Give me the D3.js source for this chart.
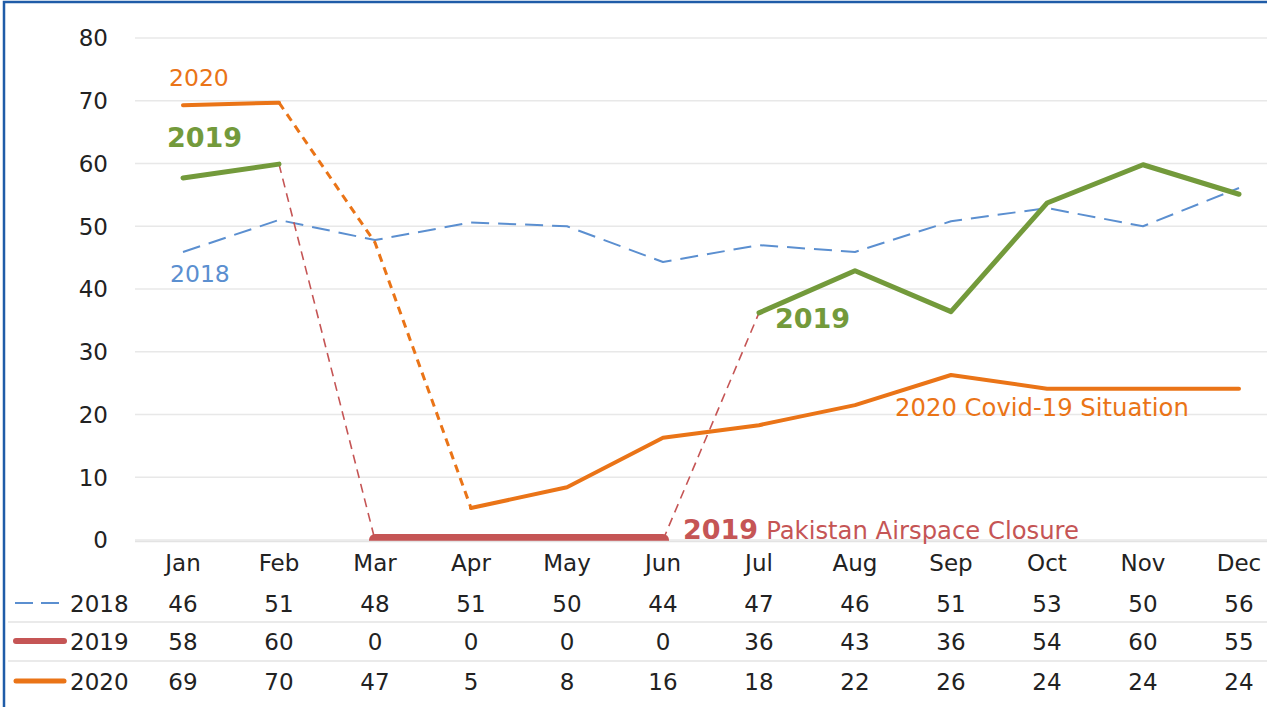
<!DOCTYPE html>
<html>
<head>
<meta charset="utf-8">
<script src="https://cdn.jsdelivr.net/npm/d3@7"></script>
<style>
html,body{margin:0;padding:0;background:#fff;}
svg{display:block;font-family:"DejaVu Sans",sans-serif;}
</style>
</head>
<body>
<svg id="chart" width="1267" height="707"></svg>
<script>
const months = ["Jan","Feb","Mar","Apr","May","Jun","Jul","Aug","Sep","Oct","Nov","Dec"];
const series2018 = [45.9, 51.0, 47.8, 50.6, 50.0, 44.3, 47.0, 45.9, 50.8, 52.9, 50.0, 56.1];
const series2019 = [57.7, 59.9, 0, 0, 0, 0, 36.2, 42.9, 36.4, 53.7, 59.8, 55.1];
const series2020 = [69.3, 69.7, 47.4, 5.1, 8.4, 16.3, 18.3, 21.5, 26.3, 24.1, 24.1, 24.1];
const table2018 = [46, 51, 48, 51, 50, 44, 47, 46, 51, 53, 50, 56];
const table2019 = [58, 60, 0, 0, 0, 0, 36, 43, 36, 54, 60, 55];
const table2020 = [69, 70, 47, 5, 8, 16, 18, 22, 26, 24, 24, 24];
const yTicks = [0, 10, 20, 30, 40, 50, 60, 70, 80];
const seriesNames = ["2018", "2019", "2020"];

const C = {blue:"#5b8fd0", green:"#739a3b", red:"#c55555", orange:"#ea7417", grid:"#e8e8e8", text:"#222"};

const svg = d3.select("#chart");
const x = d3.scaleBand().domain(months).range([135, 1287]);
const xc = m => x(m) + x.bandwidth()/2;
const y = d3.scaleLinear().domain([0, 80]).range([540, 38]);

// border
svg.append("rect").attr("x", 4).attr("y", 2).attr("width", 1300).attr("height", 800)
  .attr("fill", "none").attr("stroke", "#1f5ca8").attr("stroke-width", 2.5);

// gridlines
svg.append("g").selectAll("line").data(yTicks).join("line")
  .attr("x1", 135).attr("x2", 1267)
  .attr("y1", d => y(d)).attr("y2", d => y(d))
  .attr("stroke", C.grid).attr("stroke-width", 1.5);

// y tick labels
svg.append("g").selectAll("text").data(yTicks).join("text")
  .attr("x", 108).attr("y", d => y(d)).attr("dy", "0.36em")
  .attr("text-anchor", "end").attr("font-size", 23).attr("fill", C.text)
  .text(d => d);

// clip
svg.append("clipPath").attr("id", "plotclip").append("rect")
  .attr("x", 135).attr("y", 0).attr("width", 1200).attr("height", y(0) + 1);

const plot = svg.append("g").attr("clip-path", "url(#plotclip)");
const line = d3.line().x(d => xc(d.m)).y(d => y(d.v));
function seg(vals, idx) { return idx.map(i => ({m: months[i], v: vals[i]})); }
function draw(vals, idx, color, width, dash, cap) {
  plot.append("path").datum(seg(vals, idx)).attr("d", line)
    .attr("fill", "none").attr("stroke", color).attr("stroke-width", width)
    .attr("stroke-dasharray", dash || null)
    .attr("stroke-linecap", cap || "round").attr("stroke-linejoin", "round");
}

// 2018
draw(series2018, d3.range(0, 12), C.blue, 2, "18,9", "butt");
// 2019
draw(series2019, [1, 2], C.red, 1.6, "9,6", "butt");
draw(series2019, [5, 6], C.red, 1.6, "9,6", "butt");
draw(series2019, [2, 3, 4, 5], C.red, 12, null, "round");
draw(series2019, [0, 1], C.green, 5);
draw(series2019, d3.range(6, 12), C.green, 5);
// 2020
draw(series2020, [1, 2, 3], C.orange, 3, "8,6", "butt");
draw(series2020, [0, 1], C.orange, 4);
draw(series2020, d3.range(3, 12), C.orange, 4);

// axis line
svg.append("line").attr("x1", 135).attr("x2", 1267).attr("y1", y(0) + 1.5).attr("y2", y(0) + 1.5)
  .attr("stroke", "#e3e3e3").attr("stroke-width", 1.5);

// annotations
function label(txt, xx, yy, color, size, weight) {
  return svg.append("text").attr("x", xx).attr("y", yy).attr("fill", color)
    .attr("font-size", size).attr("font-weight", weight || "normal").text(txt);
}
label("2020", 169, 86, C.orange, 23.5);
label("2019", 167, 147, C.green, 27, "bold");
label("2018", 170, 282, C.blue, 23.5);
label("2019", 775, 328, C.green, 27, "bold");
label("2020 Covid-19 Situation", 895, 416, C.orange, 24.3);
const t = svg.append("text").attr("x", 683).attr("y", 539).attr("fill", C.red);
t.append("tspan").attr("font-size", 27).attr("font-weight", "bold").text("2019");
t.append("tspan").attr("font-size", 24.3).attr("dx", 8).text("Pakistan Airspace Closure");

// data table
svg.append("g").selectAll("text").data(months).join("text")
  .attr("x", d => xc(d)).attr("y", 571).attr("text-anchor", "middle")
  .attr("font-size", 23).attr("fill", C.text).text(d => d);

const rows = [
  {name: seriesNames[0], vals: table2018, y: 612},
  {name: seriesNames[1], vals: table2019, y: 650},
  {name: seriesNames[2], vals: table2020, y: 690}
];
[622, 661].forEach(yy => {
  svg.append("line").attr("x1", 8).attr("x2", 1267).attr("y1", yy).attr("y2", yy)
    .attr("stroke", "#e3e3e3").attr("stroke-width", 1.5);
});
rows.forEach(r => {
  svg.append("text").attr("x", 70).attr("y", r.y).attr("font-size", 23).attr("fill", C.text).text(r.name);
  svg.append("g").selectAll("text").data(r.vals).join("text")
    .attr("x", (d, i) => xc(months[i])).attr("y", r.y).attr("text-anchor", "middle")
    .attr("font-size", 23).attr("fill", C.text).text(d => d);
});
// legend keys
svg.append("line").attr("x1", 15).attr("x2", 66).attr("y1", 603).attr("y2", 603)
  .attr("stroke", C.blue).attr("stroke-width", 2).attr("stroke-dasharray", "18,8");
svg.append("line").attr("x1", 16).attr("x2", 64).attr("y1", 641).attr("y2", 641)
  .attr("stroke", C.red).attr("stroke-width", 6).attr("stroke-linecap", "round");
svg.append("line").attr("x1", 16).attr("x2", 64).attr("y1", 681).attr("y2", 681)
  .attr("stroke", C.orange).attr("stroke-width", 5).attr("stroke-linecap", "round");
</script>
</body>
</html>
